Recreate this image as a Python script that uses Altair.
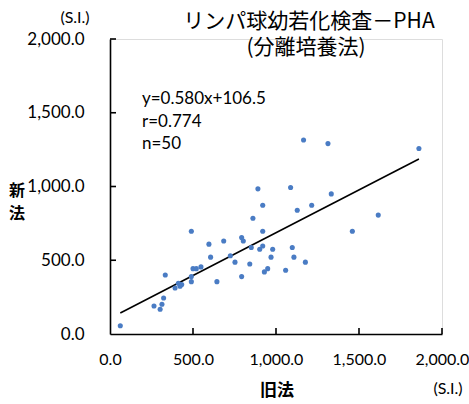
import altair as alt
import pandas as pd

# Paired measurements (S.I.): conventional method vs. new method
old_method = [
    62, 265, 302, 313, 323, 333, 392, 412, 422, 432,
    490, 490, 500, 520, 490, 548, 596, 606, 644, 685,
    725, 753, 793, 793, 803, 842, 851, 861, 891, 902,
    920, 920, 920, 930, 950, 970, 980, 1166, 1313, 1861,
    1088, 1333, 1215, 1128, 1616, 1460, 1098, 1108, 1177, 1058,
]
new_method = [
    56, 190, 168, 202, 244, 400, 312, 344, 324, 335,
    355, 389, 443, 443, 697, 455, 609, 521, 355, 631,
    531, 487, 389, 654, 631, 475, 586, 785, 984, 575,
    597, 873, 697, 421, 443, 521, 575, 1315, 1291, 1258,
    993, 950, 873, 839, 806, 697, 586, 521, 487, 432,
]

# Regression result
slope = 0.580
intercept = 106.5
r_value = 0.774

tick_values = [0, 500, 1000, 1500, 2000]
inner_ticks = [500, 1000, 1500, 2000]

title_main = "リンパ球幼若化検査－PHA"
title_sub = "(分離培養法)"
stats_lines = [f"y={slope:.3f}x+{intercept:.1f}", f"r={r_value:.3f}", f"n={len(old_method)}"]
x_title = "旧法"
y_title_lines = ["新", "法"]
unit_label = "(S.I.)"

W, H = 332, 295
LABEL_FONT = "Lato"
JP_FONT = "Noto Sans CJK JP"

points = pd.DataFrame({"old": old_method, "new": new_method})
x_lo, x_hi = min(old_method), max(old_method)
fit = pd.DataFrame({"old": [x_lo, x_hi], "new": [slope * x_lo + intercept, slope * x_hi + intercept]})

x_scale = alt.Scale(domain=[0, 2000], nice=False, zero=True)
y_scale = alt.Scale(domain=[0, 2000], nice=False, zero=True)

x_axis = alt.Axis(
    values=tick_values, format=",.1f", title=None, grid=False, ticks=False,
    domainColor="#000", domainWidth=1.6, labelFont=LABEL_FONT, labelFontSize=16,
    labelColor="#000", labelPadding=17, labelFlush=False,
)
y_axis = alt.Axis(
    values=tick_values, format=",.1f", title=None, grid=False, ticks=False,
    domainColor="#000", domainWidth=1.6, labelFont=LABEL_FONT, labelFontSize=17,
    labelColor="#000", labelPadding=26, labelFlush=False,
)

scatter = alt.Chart(points).mark_circle(size=26, color="#4a7cc4", opacity=1).encode(
    x=alt.X("old:Q", scale=x_scale, axis=x_axis),
    y=alt.Y("new:Q", scale=y_scale, axis=y_axis),
)

fit_line = alt.Chart(fit).mark_line(color="#000", strokeWidth=1.6).encode(
    x=alt.X("old:Q", scale=x_scale),
    y=alt.Y("new:Q", scale=y_scale),
)

# Inward tick marks on both axes
tick_df = pd.DataFrame({"v": inner_ticks})
y_ticks = alt.Chart(tick_df).mark_rule(color="#000", strokeWidth=1.6).encode(
    y=alt.Y("v:Q", scale=y_scale), x=alt.value(0), x2=alt.value(6),
)
x_ticks = alt.Chart(tick_df).mark_rule(color="#000", strokeWidth=1.6).encode(
    x=alt.X("v:Q", scale=x_scale), y=alt.value(H), y2=alt.value(H - 6),
)

def label(lines, x, y, size, font, weight="normal", align="center", line_height=None):
    kw = dict(text=lines if len(lines) > 1 else lines[0], font=font, fontSize=size,
              fontWeight=weight, align=align, baseline="middle", color="#000")
    if line_height is not None:
        kw["lineHeight"] = line_height
    return alt.Chart(pd.DataFrame({"k": [0]})).mark_text(**kw).encode(
        x=alt.value(x), y=alt.value(y)
    )

title_1 = label([title_main], 199, -17, 21, JP_FONT)
title_2 = label([title_sub], 196, 9, 21, JP_FONT)
stats = label(stats_lines, 32, 60, 17, LABEL_FONT, align="left", line_height=22.5)
x_name = label([x_title], 167, 352, 17, JP_FONT, weight="bold")
y_name = label(y_title_lines, -93, 152, 16, JP_FONT, weight="bold", line_height=23)
unit_top = label([unit_label], -35, -21, 16, LABEL_FONT)
unit_bottom = label([unit_label], 338, 350, 16, LABEL_FONT)

chart = alt.layer(
    fit_line, scatter, y_ticks, x_ticks, title_1, title_2, stats, x_name, y_name,
    unit_top, unit_bottom
).properties(
    width=W, height=H,
    autosize=alt.AutoSizeParams(type="none"),
    padding={"left": 110, "top": 39, "right": 27, "bottom": 70},
).configure_view(stroke=None).configure(background="#ffffff")

chart.save("out.html", embed_options={"renderer": "svg", "actions": False})
